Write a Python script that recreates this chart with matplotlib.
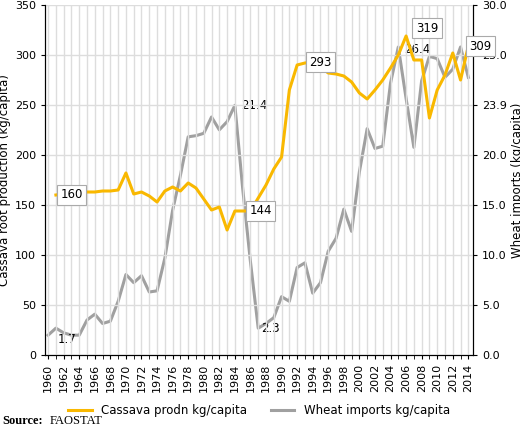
import numpy as np
import matplotlib.pyplot as plt

years = np.arange(1960, 2015)
cassava = [np.nan,
           160, 161, 162, 162, 163, 163, 164, 164, 165,
           182, 161, 163, 159, 153, 164, 168, 164, 172, 167,
           156, 145, 148, 125, 144, 144, 144, 157, 170, 186,
           198, 265, 290, 292, 293, 288, 282, 281, 279, 273,
           262, 256, 265, 275, 287, 300, 319, 295, 295, 237,
           265, 280, 302, 275, 309]
wheat = [1.7, 2.3, 1.9, 1.7, 1.7, 3.0, 3.5, 2.7, 2.9, 4.6,
         6.9, 6.2, 6.8, 5.4, 5.5, 8.3, 12.4, 15.4, 18.7, 18.8,
         19.0, 20.4, 19.3, 20.0, 21.4, 14.3, 8.0, 2.3, 2.7, 3.2,
         5.0, 4.6, 7.5, 7.9, 5.3, 6.2, 8.9, 10.0, 12.5, 10.6,
         15.7, 19.4, 17.7, 17.9, 23.3, 26.4, 22.0, 17.8, 23.5, 25.6,
         25.4, 23.8, 24.5, 26.4, 23.8]
right_labels = ["0.0", "5.0", "10.0", "15.0", "20.0", "23.9", "25.0", "30.0"]

yellow = "#f9b800"
grey = "#a0a0a0"

fig = plt.figure(figsize=(5.2, 4.28), dpi=100)
ax = fig.add_axes([45/520, 73/428, 428/520, 350/428])
ax2 = ax.twinx()

ax.plot(years, cassava, color=yellow, lw=2.2, zorder=3)
ax2.plot(years, wheat, color=grey, lw=2.2, zorder=2)

ax.set_xlim(1959.6, 2014.6)
ax.set_ylim(0, 350)
ax2.set_ylim(0, 30)
ax.set_yticks(np.arange(0, 351, 50))
ax2.set_yticks(np.linspace(0, 30, 8))
ax2.set_yticklabels(right_labels)
ax.set_xticks(np.arange(1960, 2015, 2))
ax.set_xticklabels([str(y) for y in range(1960, 2015, 2)], rotation=90)
ax.set_xticks(years, minor=True)
ax.grid(True, which="both", axis="x", color="#dddddd", lw=1)
ax.grid(True, axis="y", color="#dddddd", lw=1)
ax.set_axisbelow(True)
for a in (ax, ax2):
    a.tick_params(labelsize=8, length=3, which="both")
    a.spines["top"].set_visible(False)
ax.set_ylabel("Cassava root production (kg/capita)", fontsize=8.5, labelpad=3)
ax2.set_ylabel("Wheat imports (kg/capita)", fontsize=8.5, labelpad=3)
ax.set_zorder(ax2.get_zorder() + 1)
ax.patch.set_visible(False)

box = dict(boxstyle="square,pad=0.3", fc="white", ec="#aaaaaa", lw=0.8)
for x, y, t in [(1963, 160, "160"), (1987.3, 144, "144"), (1995, 293, "293"),
                (2008.7, 327, "319"), (2015.6, 309, "309")]:
    ax.text(x, y, t, fontsize=8.5, ha="center", va="center", bbox=box, zorder=5, clip_on=False)
for x, y, t in [(1962.4, 1.3, "1.7"), (1986.5, 21.4, "21.4"), (1988.6, 2.3, "2.3"), (2007.5, 26.2, "26.4")]:
    ax2.text(x, y, t, fontsize=8.5, ha="center", va="center")

ax.legend([plt.Line2D([], [], color=yellow, lw=2.2), plt.Line2D([], [], color=grey, lw=2.2)],
          ["Cassava prodn kg/capita", "Wheat imports kg/capita"],
          loc="upper center", bbox_to_anchor=(0.5, -0.11), ncol=2, frameon=False, fontsize=8.5)
fig.text(0.005, 0.01, "Source:", fontsize=9, family="Liberation Serif", weight="bold")
fig.text(0.095, 0.01, "FAOSTAT", fontsize=9, family="Liberation Serif")

fig.savefig("out.png", dpi=100)
